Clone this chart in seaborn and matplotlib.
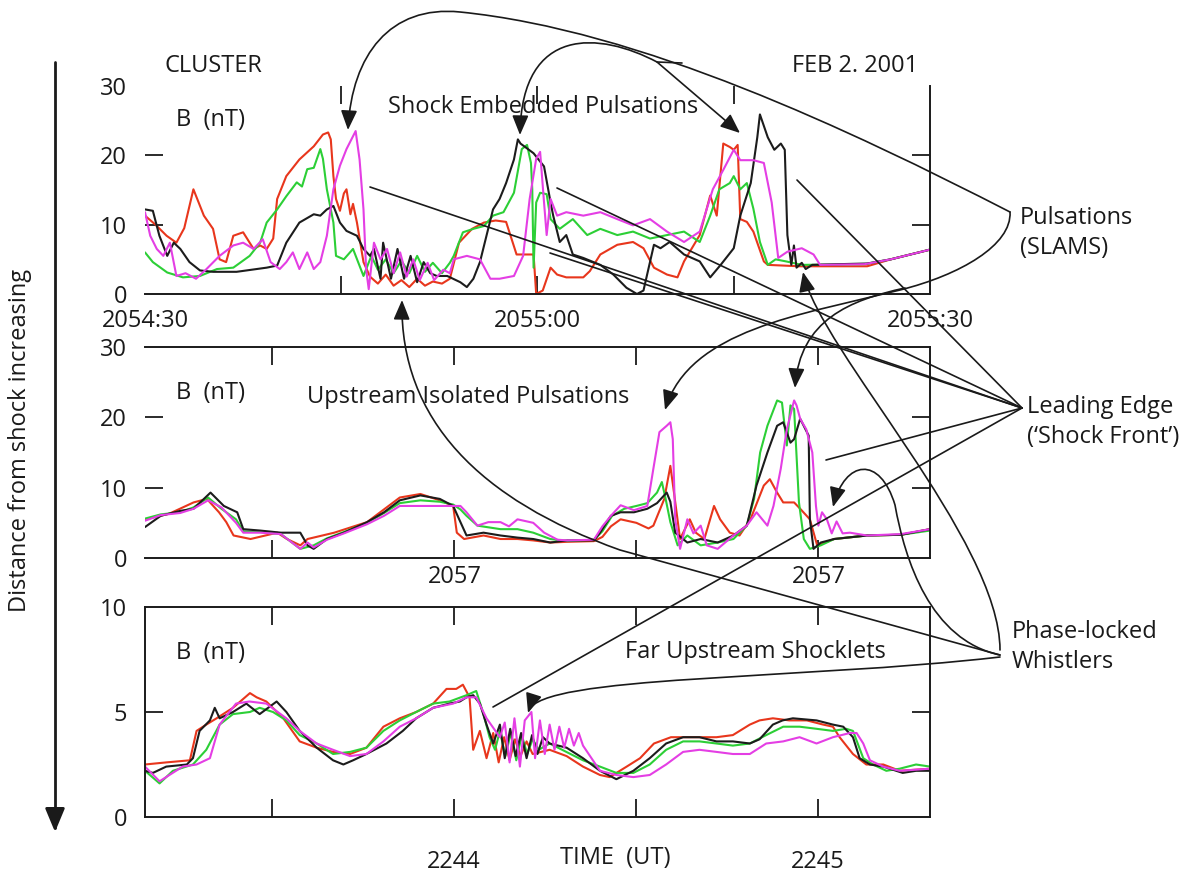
import matplotlib
matplotlib.use("Agg")
import matplotlib.pyplot as plt
import numpy as np
import pandas as pd
import seaborn as sns
from matplotlib.patches import FancyArrowPatch
from matplotlib.path import Path

# ---------------- data (time in s, B in nT) ----------------
PROBES = ["red", "green", "black", "magenta"]

TOP_BLACK = [(0, 12.2), (0.6, 12.0), (1.1, 8.4), (1.7, 5.5), (2.2, 7.4), (2.7, 6.5), (3.4, 4.6), (4.2, 3.4),
             (5.2, 3.2), (7.0, 3.2), (9.3, 3.8), (10.1, 4.1), (10.8, 7.4), (11.8, 10.3), (12.9, 11.5), (13.4, 11.3),
             (13.9, 12.2), (14.4, 12.7), (14.9, 10.3), (15.4, 9.1), (16.2, 8.4), (16.7, 6.5), (17.2, 5.5), (17.5, 6.5),
             (18.0, 2.2), (18.2, 7.4), (18.8, 2.2), (19.3, 6.5), (19.8, 2.2), (20.3, 5.5), (20.8, 1.7), (21.3, 4.6),
             (21.8, 3.0), (22.3, 2.6), (23.1, 2.6), (24.1, 1.7), (24.6, 1.0), (25.1, 2.2), (25.6, 4.6), (26.1, 8.4),
             (26.6, 12.2), (27.1, 13.7), (27.6, 16.0), (28.2, 19.4), (28.5, 22.3), (28.7, 21.7), (29.7, 20.3),
             (30.5, 18.4), (31.0, 13.2), (31.2, 11.3), (31.7, 7.5), (32.2, 8.5), (32.7, 5.7), (33.5, 5.2), (34.8, 4.2),
             (35.8, 2.8), (36.8, 0.9), (37.6, 0.0), (38.1, 0.5), (38.9, 7.1), (39.4, 6.6), (40.1, 7.5), (41.2, 5.7),
             (42.4, 4.7), (43.2, 2.4), (44.0, 4.2), (45.0, 6.6), (45.5, 11.3), (46.3, 16.0), (46.8, 22.6), (47.0, 25.9),
             (47.6, 22.6), (48.1, 20.8), (48.6, 21.7), (48.9, 20.8), (49.1, 8.5), (49.4, 4.2), (49.6, 7.0), (49.8, 3.8),
             (50.2, 4.5), (50.5, 3.6), (51.0, 4.2), (53.0, 4.3), (55.2, 4.4), (57.0, 5.0), (60.0, 6.4)]
TOP_RED = [(0, 11.3), (0.8, 10.0), (1.65, 8.4), (2.4, 7.4), (3.0, 9.5), (3.7, 15.1), (4.5, 11.3), (5.2, 9.4),
           (5.7, 5.0), (6.2, 4.6), (6.75, 8.4), (7.5, 8.9), (8.3, 6.5), (8.8, 7.0), (9.3, 6.5), (9.8, 8.0), (10.1, 13.7),
           (10.8, 17.0), (11.8, 19.4), (12.9, 21.3), (13.6, 23.0), (14.0, 23.3), (14.2, 22.3), (14.4, 17.0),
           (14.6, 13.7), (14.9, 12.0), (15.2, 14.5), (15.4, 15.1), (15.7, 11.5), (15.9, 13.0), (16.2, 10.3),
           (16.7, 4.6), (17.2, 2.5), (17.8, 1.5), (18.4, 2.8), (19.0, 1.2), (19.6, 2.0), (20.2, 1.0), (20.8, 2.2),
           (21.4, 1.2), (22.0, 1.8), (22.7, 1.5), (23.3, 2.2), (24.0, 7.4), (25.0, 9.4), (25.9, 10.3), (26.8, 10.6),
           (27.6, 10.4), (28.4, 5.7), (29.7, 5.7), (29.9, 0.0), (30.4, 0.5), (31.0, 3.8), (31.5, 2.8), (32.2, 2.4),
           (33.5, 2.4), (34.0, 3.3), (34.8, 5.7), (36.1, 7.1), (37.3, 7.5), (38.1, 6.6), (38.9, 3.8), (39.9, 2.8),
           (40.7, 2.4), (41.2, 4.7), (42.4, 8.5), (43.2, 14.2), (43.7, 11.3), (44.2, 21.7), (44.7, 21.2), (45.0, 20.8),
           (45.3, 21.5), (45.5, 10.8), (46.0, 10.4), (46.5, 9.0), (47.3, 4.7), (47.6, 4.2), (50.0, 4.0), (55.2, 4.0),
           (57.0, 5.0), (60.0, 6.4)]
TOP_GREEN = [(0, 6.0), (0.6, 4.6), (1.7, 3.1), (2.9, 2.4), (4.2, 2.6), (5.5, 3.6), (6.75, 3.8), (8.0, 5.5),
             (8.8, 7.4), (9.3, 10.3), (10.1, 12.2), (10.8, 14.1), (11.6, 16.1), (12.0, 15.5), (12.4, 18.0),
             (12.9, 18.2), (13.4, 20.9), (13.6, 19.5), (13.9, 15.1), (14.4, 10.3), (14.6, 5.5), (15.2, 5.0),
             (15.9, 6.5), (16.7, 2.6), (17.3, 5.5), (17.8, 3.5), (18.4, 5.0), (19.0, 3.0), (19.6, 4.8), (20.2, 3.0),
             (20.8, 5.5), (21.4, 3.2), (22.0, 4.5), (22.7, 3.0), (23.3, 4.5), (23.6, 5.5), (24.3, 8.9), (25.1, 9.4),
             (25.9, 9.8), (26.6, 11.3), (27.4, 11.8), (28.2, 14.6), (28.8, 20.9), (29.2, 21.5), (29.5, 18.9),
             (29.6, 15.1), (29.7, 3.8), (29.9, 13.2), (30.2, 14.6), (30.7, 14.4), (31.0, 10.8), (31.7, 9.4),
             (32.7, 10.8), (33.8, 8.5), (34.8, 9.4), (36.1, 8.5), (37.3, 9.0), (38.6, 8.0), (39.9, 8.5), (41.2, 9.0),
             (42.4, 7.5), (43.2, 11.3), (43.9, 15.1), (44.7, 16.0), (45.0, 17.0), (45.5, 15.1), (46.0, 16.0),
             (46.5, 12.3), (47.0, 7.5), (47.6, 4.2), (48.2, 5.0), (49.0, 4.7), (50.2, 4.2), (55.0, 4.3), (57.0, 5.0),
             (60.0, 6.4)]
TOP_MAGENTA = [(0, 11.8), (0.4, 8.4), (0.9, 6.5), (1.4, 5.5), (1.9, 7.4), (2.4, 2.6), (3.1, 3.0), (3.9, 2.2),
               (4.7, 3.6), (5.7, 5.5), (6.75, 7.0), (7.5, 7.4), (8.3, 6.5), (9.0, 7.9), (9.6, 4.6), (10.3, 3.6),
               (10.8, 4.6), (11.3, 6.0), (11.8, 3.6), (12.4, 6.0), (12.9, 3.6), (13.4, 4.6), (13.9, 8.4), (14.4, 15.1),
               (14.9, 18.5), (15.4, 20.9), (16.1, 23.5), (16.4, 19.4), (16.7, 12.2), (16.9, 3.6), (17.1, 0.7),
               (17.5, 7.4), (18.0, 5.0), (18.5, 6.5), (19.0, 3.0), (19.5, 6.0), (20.0, 2.5), (20.5, 5.0), (21.0, 2.0),
               (21.6, 4.5), (22.1, 2.0), (22.8, 3.5), (23.3, 3.0), (23.6, 5.0), (24.6, 5.5), (25.6, 5.0), (26.4, 2.2),
               (27.1, 2.2), (28.2, 2.6), (28.9, 5.5), (29.4, 13.7), (29.9, 19.5), (30.2, 20.5), (30.5, 13.2),
               (30.7, 8.5), (31.0, 13.7), (31.5, 11.3), (32.2, 11.8), (33.5, 11.3), (34.8, 11.8), (36.1, 10.8),
               (37.3, 9.9), (38.6, 10.8), (39.9, 9.0), (41.2, 7.5), (42.4, 9.0), (43.4, 15.1), (44.2, 17.9),
               (45.0, 20.8), (45.5, 19.3), (46.5, 19.3), (47.3, 18.9), (47.9, 13.2), (48.4, 5.2), (49.1, 6.1),
               (50.2, 6.6), (51.1, 5.7), (51.6, 4.2), (55.0, 4.3), (57.0, 5.0), (60.0, 6.4)]

MID_BLACK = [(-10.5, 4.4), (-9.2, 6.0), (-7.6, 6.7), (-6.5, 7.0), (-5.1, 9.3), (-4.0, 7.4), (-2.9, 6.5), (-2.4, 4.1),
             (-1.0, 3.9), (0.7, 3.6), (2.3, 3.6), (2.9, 1.8), (3.4, 1.3), (4.5, 2.7), (5.9, 3.6), (7.8, 5.1), (9.2, 6.5),
             (10.5, 8.2), (12.2, 8.9), (13.8, 8.4), (14.9, 7.4), (15.5, 5.1), (16.0, 3.2), (17.4, 3.6), (18.8, 3.2),
             (20.2, 2.9), (21.5, 2.7), (22.9, 2.2), (24.3, 2.5), (26.5, 2.5), (27.0, 3.6), (27.9, 6.0), (28.7, 6.5),
             (29.8, 6.5), (30.9, 7.0), (31.7, 7.8), (32.5, 9.3), (32.8, 8.0), (33.2, 3.6), (34.2, 2.2), (35.3, 2.7),
             (36.7, 2.2), (38.0, 3.2), (39.1, 4.6), (39.9, 10.3), (40.8, 15.0), (41.6, 18.8), (42.1, 19.3),
             (42.7, 16.4), (43.0, 16.9), (43.5, 19.8), (44.2, 17.4), (44.3, 5.5), (44.6, 1.3), (45.2, 2.2),
             (46.3, 2.7), (49.0, 3.2), (51.8, 3.3), (54.2, 4.1)]
MID_RED = [(-10.5, 5.5), (-8.5, 6.3), (-6.5, 7.9), (-5.4, 8.4), (-4.4, 6.5), (-3.8, 5.1), (-3.2, 3.2), (-1.8, 2.7),
           (0.4, 3.6), (1.2, 2.7), (2.3, 1.8), (2.9, 2.7), (5.1, 3.6), (7.8, 5.1), (10.5, 8.6), (12.2, 9.1), (13.8, 8.2),
           (14.9, 7.4), (15.2, 3.6), (15.8, 2.7), (17.4, 3.2), (18.8, 2.7), (20.2, 2.7), (21.5, 2.5), (22.9, 2.2),
           (24.3, 2.3), (26.5, 2.4), (27.2, 3.0), (27.9, 4.5), (28.7, 5.5), (30.0, 5.0), (31.0, 4.2), (31.4, 4.6),
           (32.3, 8.4), (32.8, 13.1), (33.1, 9.3), (33.6, 2.7), (34.4, 5.5), (34.9, 3.6), (35.6, 2.7), (36.4, 7.4),
           (36.9, 5.5), (37.7, 3.6), (38.5, 3.2), (39.4, 5.5), (40.5, 10.3), (41.0, 11.2), (41.6, 9.3), (42.1, 7.9),
           (43.0, 7.9), (43.5, 7.0), (44.3, 5.5), (44.9, 1.8), (46.3, 2.7), (49.0, 3.2), (51.8, 3.3), (54.2, 4.1)]
MID_GREEN = [(-10.5, 5.6), (-9.2, 6.2), (-7.6, 6.5), (-6.5, 7.2), (-5.3, 8.6), (-4.2, 7.0), (-3.0, 5.5), (-2.4, 3.8),
             (-1.0, 3.7), (0.7, 3.4), (2.3, 1.3), (3.4, 1.8), (4.5, 2.8), (5.9, 3.7), (7.8, 5.0), (9.2, 6.4), (10.5, 7.8),
             (12.2, 8.2), (13.8, 8.0), (14.9, 7.6), (15.5, 6.9), (16.0, 6.0), (16.9, 4.6), (18.8, 4.1), (20.2, 4.1),
             (21.5, 3.6), (22.9, 2.7), (24.3, 2.4), (26.5, 2.6), (27.2, 3.8), (28.0, 6.0), (29.0, 7.0), (30.0, 7.4),
             (30.9, 7.8), (31.7, 9.3), (32.1, 10.8), (32.4, 8.5), (32.8, 5.1), (33.4, 1.8), (34.2, 3.2), (35.3, 1.8),
             (36.7, 2.2), (38.0, 2.7), (39.1, 4.6), (39.7, 8.4), (40.2, 15.0), (40.8, 18.8), (41.6, 22.4),
             (42.0, 22.1), (42.4, 16.0), (42.7, 21.7), (43.0, 21.2), (43.4, 7.9), (43.8, 2.7), (44.3, 1.3),
             (45.2, 1.8), (46.3, 2.7), (49.0, 3.2), (51.8, 3.3), (54.2, 3.9)]
MID_MAGENTA = [(-10.5, 5.3), (-9.2, 6.1), (-7.6, 6.4), (-6.5, 7.0), (-5.3, 8.2), (-4.2, 7.2), (-3.0, 5.0),
               (-2.4, 3.6), (-1.0, 3.6), (0.7, 3.4), (2.3, 1.3), (2.9, 2.2), (3.4, 1.5), (4.5, 2.6), (5.9, 3.5),
               (7.8, 4.8), (9.2, 6.0), (10.5, 7.4), (12.2, 7.4), (13.8, 7.4), (14.9, 7.4), (15.5, 7.4), (16.0, 6.5),
               (16.9, 4.6), (17.8, 5.1), (18.8, 5.1), (19.5, 4.5), (20.2, 5.5), (21.5, 5.0), (22.4, 3.6), (23.5, 2.6),
               (24.3, 2.5), (26.5, 2.6), (27.2, 4.5), (27.9, 6.0), (28.7, 7.5), (29.8, 6.8), (30.9, 7.4), (31.4, 12.7),
               (31.9, 17.9), (32.5, 18.8), (32.8, 19.3), (33.0, 16.9), (33.2, 5.5), (33.6, 1.3), (34.2, 5.5),
               (34.7, 3.5), (35.3, 4.6), (35.8, 1.8), (36.7, 1.3), (38.0, 3.2), (39.1, 4.6), (39.9, 6.5), (40.8, 4.6),
               (41.3, 7.4), (41.9, 12.7), (42.4, 18.3), (43.0, 22.4), (43.2, 21.7), (43.5, 19.8), (44.0, 18.3),
               (44.5, 15.0), (44.8, 7.4), (45.0, 4.6), (45.3, 6.5), (45.7, 5.5), (46.1, 3.5), (46.5, 5.2), (47.0, 3.5),
               (47.6, 3.6), (49.0, 3.2), (51.8, 3.4), (54.2, 4.1)]

BOT_BLACK = [(-20.9, 2.2), (-19.6, 2.1), (-17.4, 2.4), (-14.0, 2.5), (-13.0, 2.8), (-11.9, 4.1), (-10.2, 4.6),
             (-9.4, 5.2), (-8.6, 4.7), (-6.4, 5.0), (-4.2, 5.4), (-2.0, 4.9), (0.8, 5.5), (2.4, 5.0), (4.6, 4.1),
             (7.4, 3.3), (10.1, 2.7), (11.8, 2.5), (13.4, 2.7), (15.6, 3.0), (18.9, 3.5), (21.6, 4.1), (23.8, 4.7),
             (26.6, 5.2), (29.3, 5.4), (31.0, 5.5), (32.1, 5.7), (33.2, 5.8), (34.3, 5.4), (35.4, 4.4), (36.5, 3.5),
             (37.6, 4.4), (38.4, 2.8), (39.3, 4.2), (40.2, 2.9), (41.1, 4.0), (42.0, 2.8), (42.9, 3.9), (43.8, 3.0),
             (44.7, 3.8), (45.8, 3.5), (48.6, 3.3), (51.3, 2.8), (54.1, 2.2), (56.8, 1.8), (59.6, 2.2), (62.3, 2.8),
             (65.0, 3.5), (67.8, 3.8), (70.5, 3.8), (73.3, 3.6), (76.0, 3.6), (78.8, 3.5), (80.4, 3.7), (82.6, 4.4),
             (84.2, 4.6), (85.9, 4.7), (89.8, 4.6), (92.5, 4.4), (94.2, 4.3), (95.8, 3.8), (96.9, 2.8), (98.6, 2.5),
             (100.8, 2.4), (104.0, 2.1), (106.2, 2.2), (108.5, 2.2)]
BOT_RED = [(-20.9, 2.5), (-17.4, 2.6), (-13.5, 2.7), (-12.4, 4.1), (-10.8, 4.4), (-9.1, 4.7), (-6.4, 5.2), (-3.6, 5.9),
           (-2.5, 5.7), (-0.9, 5.5), (1.9, 4.7), (4.6, 3.6), (7.4, 3.3), (10.1, 3.1), (12.9, 3.0), (15.6, 3.3),
           (18.4, 4.3), (21.1, 4.7), (23.8, 5.0), (26.6, 5.4), (28.8, 6.1), (30.4, 6.1), (31.5, 6.3), (32.6, 5.7),
           (33.2, 3.2), (34.3, 4.1), (35.4, 2.8), (36.5, 4.0), (37.4, 2.6), (38.3, 3.8), (39.2, 2.7), (40.1, 3.7),
           (41.0, 2.9), (42.0, 3.6), (43.0, 3.0), (45.8, 3.2), (48.6, 2.9), (51.3, 2.4), (54.1, 2.0), (55.7, 1.9),
           (58.5, 2.4), (60.7, 2.8), (63.0, 3.5), (65.8, 3.8), (70.5, 3.8), (73.3, 3.8), (76.0, 3.9), (78.8, 4.4),
           (80.4, 4.6), (82.6, 4.7), (85.3, 4.6), (88.2, 4.6), (90.9, 4.4), (92.5, 4.3), (93.6, 3.8), (95.8, 3.0),
           (98.0, 2.5), (100.8, 2.5), (103.5, 2.2), (108.5, 2.3)]
BOT_GREEN = [(-20.9, 2.2), (-18.5, 1.6), (-16.3, 2.2), (-13.0, 2.5), (-10.8, 3.2), (-8.6, 4.4), (-6.4, 4.9),
             (-3.6, 5.0), (-2.0, 5.2), (0.2, 5.0), (2.4, 4.6), (4.6, 3.9), (7.4, 3.5), (10.1, 3.0), (12.9, 3.1),
             (15.6, 3.3), (18.4, 4.1), (21.1, 4.6), (23.8, 5.0), (26.6, 5.4), (29.3, 5.5), (32.1, 5.8), (33.7, 6.0),
             (34.8, 5.0), (35.9, 3.8), (36.8, 3.2), (37.6, 4.1), (38.5, 2.9), (39.4, 4.0), (40.3, 2.7), (41.2, 3.9),
             (42.1, 3.0), (43.0, 3.7), (44.0, 3.2), (45.8, 3.5), (51.3, 2.7), (54.1, 2.4), (56.8, 2.1), (59.6, 2.1),
             (62.3, 2.5), (65.0, 3.2), (67.8, 3.6), (70.5, 3.6), (73.3, 3.5), (76.0, 3.4), (78.8, 3.5), (81.5, 3.9),
             (84.3, 4.3), (87.0, 4.3), (89.8, 4.2), (92.5, 4.1), (94.7, 4.2), (95.8, 4.1), (97.5, 2.8), (99.1, 2.5),
             (101.3, 2.2), (103.5, 2.3), (106.2, 2.5), (108.5, 2.4)]
BOT_MAGENTA = [(-20.9, 2.4), (-18.5, 1.7), (-14.7, 2.4), (-12.4, 2.5), (-10.2, 2.8), (-8.6, 4.4), (-5.9, 5.4),
               (-3.7, 5.5), (-0.9, 5.4), (2.4, 4.7), (4.6, 4.1), (7.4, 3.5), (10.1, 3.2), (12.9, 2.9), (15.6, 3.0),
               (18.4, 3.6), (21.1, 4.3), (23.8, 4.7), (26.6, 5.2), (29.9, 5.4), (32.1, 5.7), (33.7, 5.7), (35.4, 4.7),
               (37.6, 3.8), (38.4, 4.5), (39.2, 2.6), (40.0, 4.7), (40.9, 2.4), (41.7, 4.6), (42.8, 5.0), (43.4, 2.8),
               (44.2, 4.6), (45.0, 3.0), (45.8, 4.4), (46.6, 3.2), (47.4, 4.3), (48.2, 3.3), (49.0, 4.2), (49.8, 3.4),
               (50.6, 4.0), (51.3, 3.4), (54.1, 2.2), (56.8, 2.0), (59.6, 1.9), (62.3, 2.0), (65.0, 2.5), (67.8, 3.1),
               (70.5, 3.2), (73.3, 3.1), (76.0, 3.0), (78.8, 3.0), (81.5, 3.5), (84.3, 3.6), (87.0, 3.8), (89.8, 3.5),
               (92.5, 3.8), (95.3, 4.0), (96.4, 4.0), (97.5, 3.5), (98.6, 2.7), (100.8, 2.4), (103.5, 2.2),
               (108.5, 2.3)]

TOP_XTICKS = [0, 30, 60]
TOP_XLABELS = ["2054:30", "2055:00", "2055:30"]
MID_XTICKS = [0, 15, 30, 45]
MID_XLABELS = ["", "2057", "", "2057"]
BOT_XTICKS = [0, 30, 60, 90]
BOT_XLABELS = ["", "2244", "", "2245"]

COLORS = {"black": "#1c1c1c", "red": "#e8361c", "green": "#2ccf36", "magenta": "#e43ee4"}

# ---------------- figure ----------------
W, H = 1196, 876
sns.set_theme(style="white")
plt.rcParams["font.family"] = ["Open Sans", "DejaVu Sans"]
FS = 17
INK = "#1a1a1a"

fig = plt.figure(figsize=(W / 100, H / 100), dpi=100)
fig.patch.set_facecolor("white")


def rect(x0, ytop, x1, ybot):
    return [x0 / W, 1 - ybot / H, (x1 - x0) / W, (ybot - ytop) / H]


def P(x, y):
    return (x / W, 1 - y / H)


ax_top = fig.add_axes(rect(145, 86, 930, 294))
ax_mid = fig.add_axes(rect(145, 347, 930, 558))
ax_bot = fig.add_axes(rect(145, 607, 930, 817))


def frame(series):
    rows = []
    for name, pts in series.items():
        for t, b in pts:
            rows.append((name, t, b))
    return pd.DataFrame(rows, columns=["probe", "t", "B"])


def draw(ax, series):
    df = frame(series)
    sns.lineplot(data=df, x="t", y="B", hue="probe", hue_order=PROBES, palette=COLORS,
                 estimator=None, sort=False, legend=False, lw=1.5, ax=ax)
    ax.set_xlabel("")
    ax.set_ylabel("")
    ax.patch.set_alpha(0)


draw(ax_top, {"red": TOP_RED, "green": TOP_GREEN, "black": TOP_BLACK, "magenta": TOP_MAGENTA})
draw(ax_mid, {"red": MID_RED, "green": MID_GREEN, "black": MID_BLACK, "magenta": MID_MAGENTA})
draw(ax_bot, {"red": BOT_RED, "green": BOT_GREEN, "black": BOT_BLACK, "magenta": BOT_MAGENTA})


def style(ax, xlim, xticks, xlabels, xminor, ylim, yticks, yminor, spines, xpad):
    ax.set_xlim(*xlim)
    ax.set_ylim(*ylim)
    ax.xaxis.remove_overlapping_locs = False
    ax.yaxis.remove_overlapping_locs = False
    ax.set_xticks(xticks)
    ax.set_xticklabels(xlabels)
    ax.set_xticks(xminor, minor=True)
    ax.set_yticks(yticks)
    ax.set_yticklabels([str(v) for v in yticks])
    ax.set_yticks(yminor, minor=True)
    ax.tick_params(which="major", length=0, labelsize=FS, labelcolor=INK)
    ax.tick_params(axis="x", which="major", pad=xpad)
    ax.tick_params(axis="y", which="major", pad=13)
    ax.tick_params(which="minor", direction="in", length=13, width=1.3, color=INK,
                   top=True, bottom=True, left=True, right=True)
    ax.tick_params(axis="x", which="minor", labelbottom=False)
    for side in ["top", "bottom", "left", "right"]:
        ax.spines[side].set_visible(side in spines)
        ax.spines[side].set_color(INK)
        ax.spines[side].set_linewidth(1.4)
    ax.grid(False)


style(ax_top, (0, 60), TOP_XTICKS, TOP_XLABELS, [15, 30, 45], (0, 30), [0, 10, 20, 30], [10, 20],
      ["bottom", "right"], 10.5)
style(ax_mid, (-10.5, 54.2), MID_XTICKS, MID_XLABELS, MID_XTICKS, (0, 30), [0, 10, 20, 30], [10, 20],
      ["top", "bottom", "right"], 5)
style(ax_bot, (-20.9, 108.5), BOT_XTICKS, BOT_XLABELS, BOT_XTICKS, (0, 10), [0, 5, 10], [5],
      ["top", "bottom", "left", "right"], 24)


# ---------------- texts ----------------
def T(x, y, s, ha="center", va="center", **kw):
    fig.text(x / W, 1 - y / H, s, ha=ha, va=va, fontsize=FS, color=INK, **kw)


T(213, 66, "CLUSTER")
T(855, 66, "FEB 2. 2001")
T(210, 120, "B  (nT)")
T(210, 393, "B  (nT)")
T(210, 653, "B  (nT)")
T(543, 107, "Shock Embedded Pulsations")
T(468, 397, "Upstream Isolated Pulsations")
T(755, 652, "Far Upstream Shocklets")
T(1020, 233, "Pulsations\n(SLAMS)", ha="left", linespacing=1.3)
T(1027, 422, "Leading Edge\n(\u2018Shock Front\u2019)", ha="left", linespacing=1.3)
T(1012, 647, "Phase-locked\nWhistlers", ha="left", linespacing=1.3)
T(615, 858, "TIME  (UT)")
T(20, 440, "Distance from shock increasing", rotation=90)

# ---------------- annotation arrows ----------------
M, L, C = Path.MOVETO, Path.LINETO, Path.CURVE4


def arrow(verts, codes, head=True, lw=1.2, scale=20):
    path = Path([P(x, y) for x, y in verts], codes)
    style_ = "-|>,head_length=0.6,head_width=0.25" if head else "-"
    fig.add_artist(FancyArrowPatch(path=path, arrowstyle=style_, mutation_scale=scale, lw=lw,
                                   color=INK, transform=fig.transFigure, zorder=5))


# big arc from SLAMS over the top to first pulsation
arrow([(1010, 212), (850, 130), (640, 30), (460, 12), (390, 5), (352, 55), (348, 130)],
      [M, C, C, C, C, C, C])
# second embedded pulsation
arrow([(682, 63), (657, 62), (600, 32), (522, 25), (520, 135)], [M, L, C, C, C])
# third embedded pulsation
arrow([(657, 62), (740, 133)], [M, L])
# SLAMS lower curve to middle-panel isolated pulsation
arrow([(1010, 212), (1012, 245), (960, 275), (900, 290), (800, 315), (690, 330), (665, 410)],
      [M, C, C, C, C, C, C])
arrow([(905, 288), (850, 300), (800, 320), (795, 388)], [M, C, C, C])
# leading edge lines
for x0, y0 in [(370, 187), (557, 188), (550, 253), (797, 180), (826, 460), (493, 707)]:
    arrow([(x0, y0), (1022, 408)], [M, L], head=False)
# phase-locked whistlers
arrow([(1000, 650), (1000, 540), (820, 350), (803, 272)], [M, C, C, C])
arrow([(1000, 655), (930, 640), (905, 560), (895, 505), (880, 455), (845, 460), (833, 507)],
      [M, C, C, C, C, C, C])
arrow([(1000, 655), (620, 550), (480, 500), (400, 420), (402, 300)], [M, L, C, C, C])
arrow([(1000, 657), (800, 680), (540, 675), (528, 713)], [M, C, C, C])
# distance arrow
arrow([(55, 62), (55, 832)], [M, L], lw=2.0, scale=24)

fig.savefig("out.png", dpi=100, facecolor="white")
